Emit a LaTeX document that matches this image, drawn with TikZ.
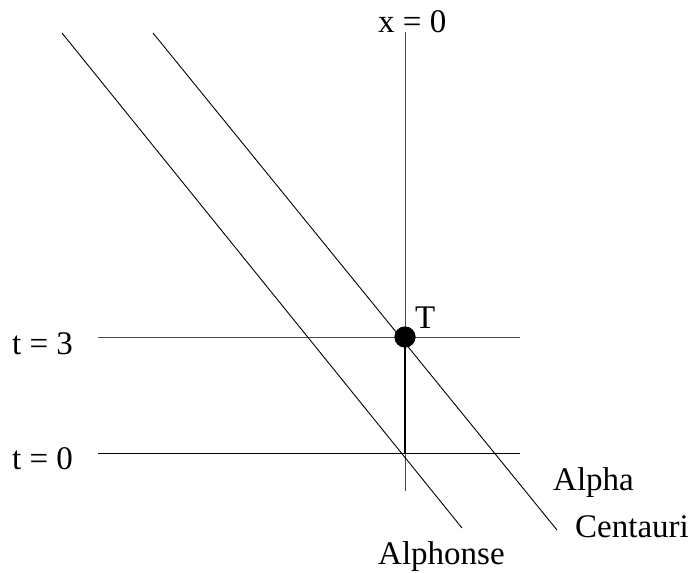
\documentclass[tikz,border=0pt]{standalone}
\usepackage{fontspec}
\setmainfont{Liberation Serif}
\begin{document}
\begin{tikzpicture}[x=1pt,y=-1pt,
  lbl/.style={anchor=base west,inner sep=0pt,font=\fontsize{33}{40}\selectfont},
  axisline/.style={draw=black!70,line width=0.9pt},
  solidline/.style={draw=black,line width=0.9pt},
  stem/.style={draw=black,line width=1.3pt},
  event/.style={circle,fill=black,minimum size=21pt,inner sep=0pt}]
\useasboundingbox (0,0) rectangle (694,573);
% coordinates
\coordinate (vtop) at (405,32);
\coordinate (vbot) at (405,491);
\coordinate (o) at (405,453);
\coordinate (h3l) at (98,337);
\coordinate (h3r) at (520,337);
\coordinate (h0l) at (98,453);
\coordinate (h0r) at (520,453);
\coordinate (aphtop) at (62,33);
\coordinate (aphbot) at (462,528);
\coordinate (actop) at (153,33);
\coordinate (acbot) at (557,530);
\node[event] (T) at (405,337) {};
% lines
\draw[axisline] (vtop) -- (T.center);
\draw[axisline] (o) -- (vbot);
\draw[axisline] (h3l) -- (h3r);
\draw[solidline] (h0l) -- (h0r);
\draw[stem] (T.center) -- (o);
\draw[solidline] (aphtop) -- (aphbot);
\draw[solidline] (actop) -- (acbot);
\node[event] at (T.center) {};
% labels
\node[lbl] (lx) at (378,32) {x = 0};
\node[lbl] (lt3) at (12,354) {t = 3};
\node[lbl] (lt0) at (12,469) {t = 0};
\node[lbl] (lT) at (415,328) {T};
\node[lbl] (lalpha) at (553,490) {Alpha};
\node[lbl] (lcent) at (575,537) {Centauri};
\node[lbl] (laph) at (378,564) {Alphonse};
\end{tikzpicture}
\end{document}
